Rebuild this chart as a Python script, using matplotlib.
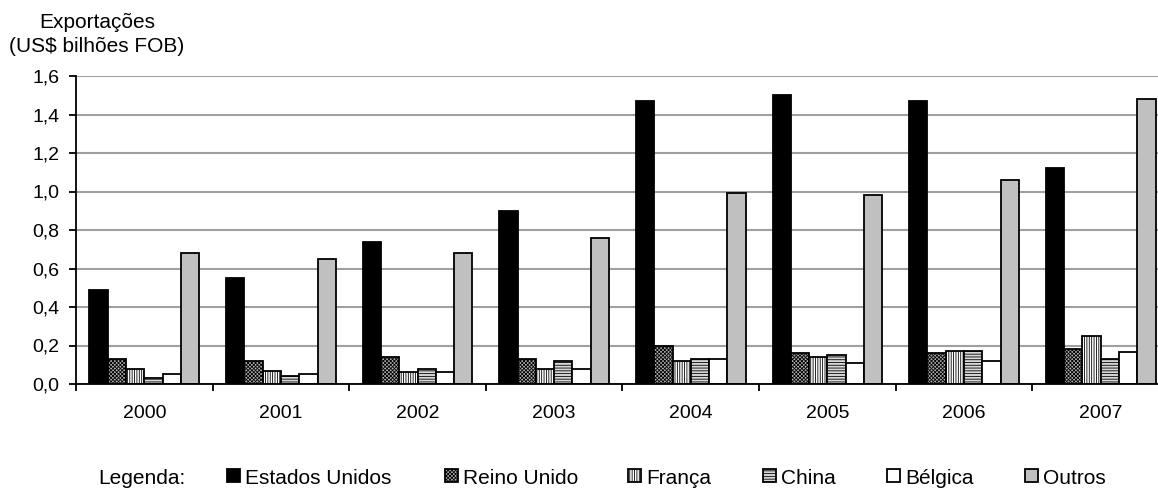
import matplotlib.pyplot as plt
import matplotlib.patches as mpatches
import numpy as np

plt.rcParams['font.family'] = ['Liberation Sans', 'DejaVu Sans']
plt.rcParams['hatch.linewidth'] = 0.6

anos = ['2000', '2001', '2002', '2003', '2004', '2005', '2006', '2007']
paises = ['Estados Unidos', 'Reino Unido', 'França', 'China', 'Bélgica', 'Outros']

estados_unidos = [0.49, 0.55, 0.74, 0.90, 1.47, 1.50, 1.47, 1.12]
reino_unido = [0.13, 0.12, 0.14, 0.13, 0.20, 0.16, 0.16, 0.18]
franca = [0.08, 0.07, 0.06, 0.08, 0.12, 0.14, 0.17, 0.25]
china = [0.03, 0.04, 0.08, 0.12, 0.13, 0.15, 0.17, 0.13]
belgica = [0.05, 0.05, 0.06, 0.08, 0.13, 0.11, 0.12, 0.165]
outros = [0.68, 0.65, 0.68, 0.76, 0.99, 0.98, 1.06, 1.48]

series = [estados_unidos, reino_unido, franca, china, belgica, outros]
estilos = [
    dict(facecolor='black', hatch=None),
    dict(facecolor='#b0b0b0', hatch='xxxxxxxxx'),
    dict(facecolor='white', hatch='|||||||'),
    dict(facecolor='#d8d8d8', hatch='------'),
    dict(facecolor='white', hatch=None),
    dict(facecolor='#c0c0c0', hatch=None),
]

W, H = 1158, 488
fig = plt.figure(figsize=(W / 100, H / 100), dpi=100)
# o eixo passa um pouco da borda direita, como no gráfico original do Excel
ax = fig.add_axes([76 / W, 104 / H, 1093 / W, 308 / H])

x = np.arange(len(anos))
largura = 0.134
for i, (valores, est) in enumerate(zip(series, estilos)):
    pos = x - 2.5 * largura + i * largura
    ax.bar(pos, valores, width=largura, facecolor=est['facecolor'],
           hatch=est['hatch'], edgecolor='black', linewidth=1.3, zorder=3)

ax.set_xlim(-0.5, len(anos) - 0.5)
ax.set_ylim(0, 1.6)
yt = np.arange(0, 1.61, 0.2)
ax.set_yticks(yt)
ax.set_yticklabels([f'{v:.1f}'.replace('.', ',') for v in yt], fontsize=14)
ax.yaxis.grid(True, color='#a0a0a0', linewidth=1.5, zorder=0)

ax.set_xticks(x)
ax.set_xticklabels(anos, fontsize=14)
ax.tick_params(axis='x', which='major', length=0, pad=15)
ax.set_xticks(np.arange(0, len(anos)) - 0.5, minor=True)
ax.tick_params(axis='x', which='minor', length=5, width=1.3, direction='out')
ax.tick_params(axis='y', length=5, width=1.3, direction='out', pad=7)

for lado in ['top', 'right']:
    ax.spines[lado].set_visible(False)
ax.spines['left'].set_linewidth(1.3)
ax.spines['bottom'].set_linewidth(1.3)
ax.spines['bottom'].set_zorder(4)

fig.text(97 / W, 1 - 28 / H, 'Exportações', ha='center', va='baseline', fontsize=15)
fig.text(97 / W, 1 - 52 / H, '(US$ bilhões FOB)', ha='center', va='baseline', fontsize=15)

# legenda desenhada à mão na parte inferior
base_leg = 1 - 484 / H
fig.text(98 / W, base_leg, 'Legenda:', fontsize=15, va='baseline')
xs_legenda = [227, 445, 628, 763, 887, 1025]
lado_px = 13
for xp, nome, est in zip(xs_legenda, paises, estilos):
    r = mpatches.Rectangle((xp / W, 1 - 482 / H), lado_px / W, lado_px / H,
                           transform=fig.transFigure, facecolor=est['facecolor'],
                           hatch=est['hatch'], edgecolor='black', linewidth=1.3)
    fig.add_artist(r)
    fig.text((xp + lado_px + 5) / W, base_leg, nome, fontsize=15, va='baseline')

fig.savefig('out.png', dpi=100)
